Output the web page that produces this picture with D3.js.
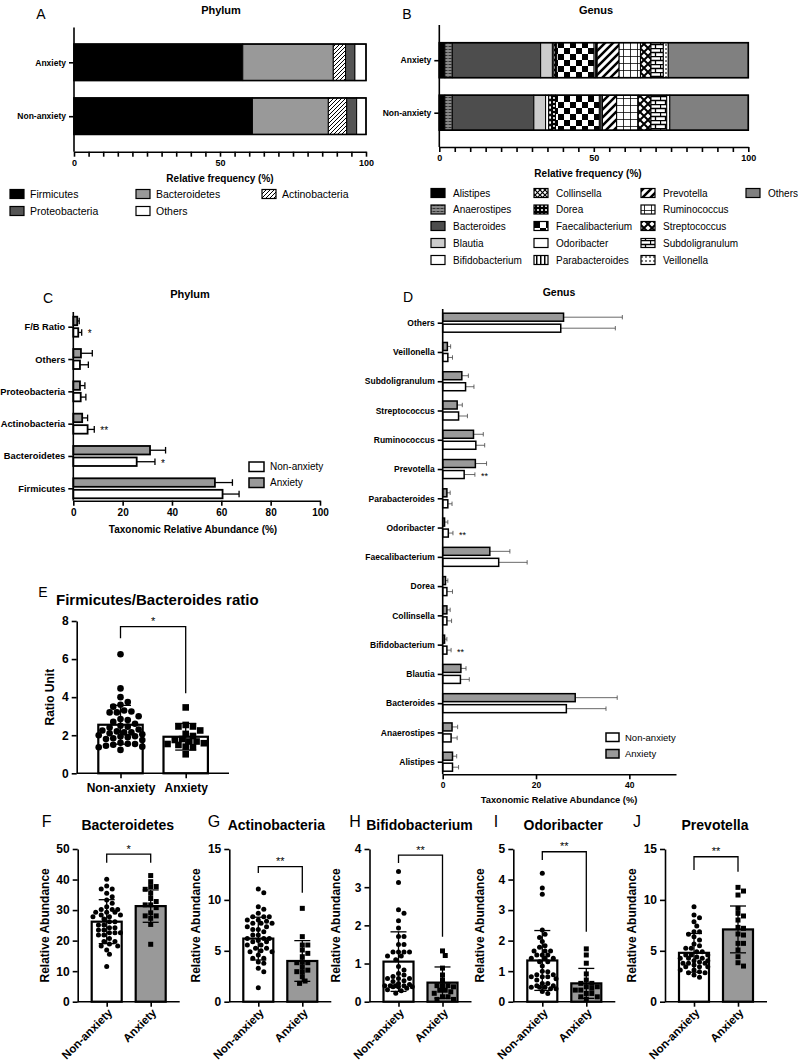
<!DOCTYPE html>
<html>
<head>
<meta charset="utf-8">
<script src="https://cdn.jsdelivr.net/npm/d3@7"></script>
<style>
body { margin: 0; background: #fff; }
</style>
</head>
<body>
<script>
// ---- data ----
var groups = ["Anxiety", "Non-anxiety"]
var dotGroups = ["Non-anxiety", "Anxiety"]

var phyla = ["Firmicutes", "Bacteroidetes", "Actinobacteria", "Proteobacteria", "Others"]
var phylumAnx = [57.8, 31.0, 4.2, 3.2, 3.8]
var phylumNon = [61.1, 26.0, 6.3, 3.4, 3.2]
var phylumLegend = ["Firmicutes", "Proteobacteria", "Bacteroidetes", "Others", "Actinobacteria"]

var genera = ["Alistipes", "Anaerostipes", "Bacteroides", "Blautia", "Bifidobacterium", "Collinsella", "Dorea",
  "Faecalibacterium", "Odoribacter", "Parabacteroides", "Prevotella", "Ruminococcus", "Streptococcus",
  "Subdoligranulum", "Veillonella", "Others"]
var genusAnx = [1.8, 2.4, 28.6, 3.8, 0.5, 0.5, 0.4, 12.1, 0.5, 0.5, 7.1, 6.9, 3.4, 4.0, 1.6, 25.9]
var genusNon = [1.8, 2.4, 26.4, 3.8, 1.0, 1.0, 1.2, 14.2, 0.5, 0.5, 4.6, 7.0, 4.1, 5.1, 1.0, 25.4]

var cCats = ["F/B Ratio", "Others", "Proteobacteria", "Actinobacteria", "Bacteroidetes", "Firmicutes"]
var cAnx = [1.6, 3.1, 2.7, 3.6, 31.1, 57.4]
var cAnxSd = [0.8, 4.6, 2.0, 2.2, 6.3, 7.1]
var cNon = [2.0, 2.7, 3.0, 5.8, 25.7, 60.5]
var cNonSd = [1.4, 3.4, 2.1, 2.7, 7.4, 6.7]
var cStars = ["*", "", "", "**", "*", ""]

var dCats = ["Others", "Veillonella", "Subdoligranulum", "Streptococcus", "Ruminococcus", "Prevotella",
  "Parabacteroides", "Odoribacter", "Faecalibacterium", "Dorea", "Collinsella", "Bifidobacterium ",
  "Blautia", "Bacteroides", "Anaerostipes", "Alistipes"]
var dAnx = [25.9, 1.0, 4.1, 3.1, 6.6, 7.0, 0.9, 0.4, 10.1, 0.6, 0.9, 0.4, 3.9, 28.4, 2.0, 2.1]
var dAnxSd = [12.6, 0.7, 1.4, 1.1, 2.1, 2.4, 0.7, 0.7, 4.3, 0.5, 0.7, 0.5, 1.1, 9.0, 1.2, 0.9]
var dNon = [25.3, 1.1, 4.9, 3.4, 7.1, 4.6, 1.1, 1.2, 12.0, 0.9, 0.9, 0.9, 3.8, 26.5, 1.8, 2.1]
var dNonSd = [11.7, 1.0, 1.8, 1.9, 1.9, 2.3, 0.9, 1.0, 6.1, 1.2, 1.0, 0.9, 1.9, 8.5, 1.3, 1.3]
var dStars = ["", "", "", "", "", "**", "", "**", "", "", "", "**", "", "", "", ""]

// F/B ratio (E)
var eNon = [6.25, 4.46, 4.0, 3.74, 3.6, 3.5, 3.3, 3.25, 3.2, 3.2, 3.0, 2.85, 2.8, 2.7, 2.6, 2.5, 2.45, 2.4, 2.3, 2.25,
  2.2, 2.15, 2.15, 2.1, 2.05, 2.0, 1.95, 1.93, 1.9, 1.84, 1.8, 1.75, 1.6, 1.55, 1.54, 1.5, 1.45, 1.4, 1.37, 1.23]
var eAnx = [3.46, 2.54, 2.46, 2.46, 2.25, 2.07, 1.96, 1.8, 1.75, 1.67, 1.67, 1.58, 1.54, 1.49, 1.4, 1.37, 1.0]
// Bacteroidetes (F)
var fNon = [40.1, 37.9, 36.9, 36.9, 35.5, 34.4, 33.3, 32.2, 31.1, 30.2, 30.2, 30.2, 29.3, 29.3, 29.3, 28.4, 28.4, 27.8,
  27.8, 27.1, 26.2, 26.2, 25.1, 25.1, 24.2, 24.2, 23.5, 23.5, 22.6, 22.6, 22.6, 21.8, 21.8, 20.7, 19.7, 19.7, 18.9,
  18.2, 18.2, 16.9, 15.5, 11.5]
var fAnx = [41.3, 39.3, 37.7, 37.7, 36.8, 35.5, 33.8, 32.8, 31.7, 31.7, 30.8, 29.1, 28.1, 28.1, 27.3, 25.3, 18.8]
// Actinobacteria (G)
var gNon = [11.07, 10.7, 9.33, 9.07, 8.68, 8.35, 8.35, 8.35, 8.02, 8.02, 7.9, 7.7, 7.7, 7.7, 7.37, 7.37, 7.1, 7.1, 6.88,
  6.55, 6.55, 6.22, 6.22, 6.22, 6.0, 5.9, 5.9, 5.57, 5.57, 5.24, 5.24, 5.0, 4.91, 4.91, 4.59, 4.26, 4.26, 3.9, 3.77,
  3.28, 2.95, 1.38]
var gAnx = [9.17, 6.39, 5.57, 5.57, 5.08, 4.75, 4.42, 3.93, 3.83, 3.83, 3.44, 3.1, 2.95, 2.95, 2.46, 2.03, 1.8]
// Bifidobacterium (H)
var hNon = [3.41, 3.12, 2.41, 2.32, 2.12, 1.93, 1.71, 1.71, 1.5, 1.5, 1.3, 1.3, 1.3, 1.3, 1.2, 1.2, 1.1, 0.92, 0.83,
  0.74, 0.7, 0.66, 0.61, 0.61, 0.61, 0.55, 0.53, 0.48, 0.45, 0.42, 0.42, 0.42, 0.42, 0.39, 0.39, 0.39, 0.35, 0.31,
  0.29, 0.22]
var hAnx = [1.33, 1.21, 0.88, 0.7, 0.57, 0.42, 0.42, 0.42, 0.39, 0.3, 0.3, 0.26, 0.22, 0.13, 0.13, 0.06, 0.06]
// Odoribacter (I)
var iNon = [4.21, 3.72, 3.52, 2.35, 2.21, 2.1, 1.97, 1.83, 1.78, 1.66, 1.66, 1.66, 1.53, 1.53, 1.53, 1.42, 1.42, 1.42,
  1.31, 1.31, 1.17, 1.0, 0.98, 0.88, 0.88, 0.82, 0.82, 0.82, 0.75, 0.71, 0.6, 0.6, 0.52, 0.52, 0.47, 0.47, 0.47,
  0.42, 0.42, 0.33, 0.27]
var iAnx = [1.73, 1.53, 1.26, 0.91, 0.71, 0.6, 0.6, 0.49, 0.49, 0.44, 0.38, 0.38, 0.27, 0.27, 0.16, 0.16, 0.08]
// Prevotella (J)
var jNon = [9.33, 8.52, 8.25, 7.86, 7.44, 6.88, 6.88, 6.62, 6.39, 6.06, 5.67, 5.5, 5.24, 5.24, 4.91, 4.91, 4.59, 4.59,
  4.59, 4.4, 4.26, 4.26, 4.26, 4.03, 4.03, 3.9, 3.77, 3.77, 3.77, 3.6, 3.44, 3.44, 3.44, 3.11, 3.11, 2.95, 2.85,
  2.85, 2.62, 2.39]
var jAnx = [11.23, 10.87, 10.48, 9.17, 8.68, 8.42, 8.02, 7.3, 7.21, 6.65, 6.55, 5.73, 5.73, 5.08, 4.42, 3.83, 3.5]

var dotMeans = { e: [2.55, 1.92], f: [26.2, 31.3], g: [6.2, 4.0], h: [1.05, 0.5], i: [1.35, 0.6], j: [4.8, 7.1] }
var dotSds = { e: [1.02, 0.7], f: [7.2, 5.3], g: [2.1, 2.0], h: [0.78, 0.41], i: [0.98, 0.49], j: [1.9, 2.3] }
// significance bracket: [top, left leg end, right leg end] in data units
var brackets = { e: [7.7, 7.1, 4.2], f: [48.3, 45.5, 45.5], g: [13.26, 12.64, 10.7], h: [3.84, 3.63, 1.7],
  i: [4.91, 4.64, 2.29], j: [14.24, 12.94, 12.77] }
var sigStars = { e: "*", f: "*", g: "**", h: "**", i: "**", j: "**" }

// ---- drawing ----
var FONT = "'Liberation Sans', Arial, Helvetica, sans-serif"
var GRAY = "#999"

var svg = d3.select("body").append("svg")
  .attr("width", 798)
  .attr("height", 1064)
  .attr("font-family", FONT)
svg.append("rect").attr("width", 798).attr("height", 1064).attr("fill", "#fff")
var defs = svg.append("defs")

function pat(id, w, h, bg, draw) {
  var p = defs.append("pattern").attr("id", id)
    .attr("patternUnits", "userSpaceOnUse")
    .attr("width", w).attr("height", h)
  p.append("rect").attr("width", w).attr("height", h).attr("fill", bg)
  draw(p)
}
pat("actino", 4, 4, "#fff", p => p.append("path").attr("d", "M-1,1l2,-2M0,4l4,-4M3,5l2,-2").attr("stroke", "#000").attr("stroke-width", 1))
pat("anaero", 4, 3, "#888", p => p.append("rect").attr("x", 0.5).attr("y", 1).attr("width", 3).attr("height", 1).attr("fill", "#333"))
pat("collin", 5, 5, "#fff", p => p.append("path").attr("d", "M0,0L5,5M5,0L0,5").attr("stroke", "#000").attr("stroke-width", 1.2))
pat("dorea", 4, 4, "#000", p => p.append("circle").attr("cx", 2).attr("cy", 2).attr("r", 1.1).attr("fill", "#fff"))
pat("faecal", 12, 12, "#fff", p => {
  p.append("rect").attr("width", 6).attr("height", 6).attr("fill", "#000")
  p.append("rect").attr("x", 6).attr("y", 6).attr("width", 6).attr("height", 6).attr("fill", "#000")
})
pat("parab", 4, 4, "#fff", p => p.append("rect").attr("width", 1.5).attr("height", 4).attr("fill", "#000"))
pat("prev", 8, 8, "#fff", p => p.append("path").attr("d", "M-2,2l4,-4M0,8l8,-8M6,10l4,-4").attr("stroke", "#000").attr("stroke-width", 2.5))
pat("rumino", 7, 7, "#fff", p => p.append("path").attr("d", "M0,0H7M0,0V7").attr("stroke", "#000").attr("stroke-width", 1.6))
pat("strep", 8, 8, "#fff", p => p.append("path").attr("d", "M0,0L8,8M8,0L0,8").attr("stroke", "#000").attr("stroke-width", 2))
pat("subdo", 10, 8, "#fff", p => p.append("path").attr("d", "M0,0.5H10M0,4.5H10M0.5,0V4.5M5.5,4.5V8").attr("stroke", "#000").attr("stroke-width", 1.3))
pat("veill", 4, 4, "#fff", p => p.append("rect").attr("x", 1.5).attr("width", 1).attr("height", 2).attr("fill", "#000"))

var phylumFill = { Firmicutes: "#000", Bacteroidetes: "#999", Actinobacteria: "url(#actino)", Proteobacteria: "#555", Others: "#fff" }
var genusFill = ["#000", "url(#anaero)", "#4d4d4d", "#ccc", "#fff", "url(#collin)", "url(#dorea)", "url(#faecal)",
  "#fff", "url(#parab)", "url(#prev)", "url(#rumino)", "url(#strep)", "url(#subdo)", "url(#veill)", "#808080"]

function styleAxis(sel, size) {
  sel.attr("font-family", FONT).attr("font-size", size).attr("font-weight", "bold")
  sel.selectAll("path.domain").attr("stroke-width", 1.6)
  sel.selectAll(".tick line").attr("stroke-width", 1.6)
  sel.selectAll(".tick text").attr("fill", "#000")
}

function label(x, y, txt, size, weight, anchor) {
  return svg.append("text")
    .attr("x", x).attr("y", y)
    .attr("font-size", size)
    .attr("font-weight", weight || "normal")
    .attr("text-anchor", anchor || "start")
    .attr("fill", "#000")
    .text(txt)
}

function vline(g, x, y1, y2, w) {
  g.append("line").attr("x1", x).attr("x2", x).attr("y1", y1).attr("y2", y2).attr("stroke", "#000").attr("stroke-width", w)
}

// stacked composition bars (A, B)
function stackedPanel(cfg) {
  var g = svg.append("g")
  var x = d3.scaleLinear().domain([0, 100]).range([cfg.x0, cfg.x1])
  var y = d3.scalePoint().domain(groups).range(cfg.yr)
  var rows = [cfg.anx, cfg.non]
  groups.forEach(function (grp, gi) {
    var cum = d3.cumsum(rows[gi])
    g.selectAll(null).data(rows[gi]).enter().append("rect")
      .attr("x", (d, i) => x(cum[i] - d))
      .attr("y", y(grp) - cfg.bh / 2)
      .attr("width", (d, i) => x(cum[i]) - x(cum[i] - d))
      .attr("height", cfg.bh)
      .attr("fill", (d, i) => cfg.fills[i])
      .attr("stroke", "#000")
      .attr("stroke-width", 1)
    g.append("rect")
      .attr("x", x(0)).attr("y", y(grp) - cfg.bh / 2)
      .attr("width", x(cum[cum.length - 1]) - x(0)).attr("height", cfg.bh)
      .attr("fill", "none").attr("stroke", "#000").attr("stroke-width", 1.6)
  })
  var xAxis = g.append("g").attr("transform", `translate(0,${cfg.axisY})`)
    .call(d3.axisBottom(x).tickValues(d3.range(0, 101, 5)).tickSize(5).tickSizeOuter(0)
      .tickFormat(d => d % 50 === 0 ? d : ""))
  styleAxis(xAxis, 9)
  var yAxis = g.append("g").attr("transform", `translate(${cfg.x0},0)`)
    .call(d3.axisLeft(y).tickSize(5).tickSizeOuter(0))
  styleAxis(yAxis, 8.5)
  yAxis.select(".domain").remove()
  vline(g, cfg.x0, cfg.yTop, cfg.axisY, 1.6)
}

// grouped horizontal bars with SD (C, D)
function hbarPanel(cfg) {
  var g = svg.append("g")
  var x = d3.scaleLinear().domain([0, cfg.max]).range([cfg.x0, cfg.x1])
  var y = d3.scalePoint().domain(cfg.cats).range(cfg.yr)
  var series = [
    { vals: cfg.anx, sd: cfg.anxSd, fill: GRAY, top: c => c - cfg.bh - 1.5 },
    { vals: cfg.non, sd: cfg.nonSd, fill: "#fff", top: c => c + 1.5 }
  ]
  series.forEach(function (s) {
    cfg.cats.forEach(function (cat, i) {
      var c = y(cat)
      var yc = s.top(c) + cfg.bh / 2
      var xe = x(s.vals[i] + s.sd[i])
      g.append("line").attr("x1", x(s.vals[i])).attr("x2", xe).attr("y1", yc).attr("y2", yc)
        .attr("stroke", cfg.errColor).attr("stroke-width", cfg.errW)
      g.append("line").attr("x1", xe).attr("x2", xe).attr("y1", yc - cfg.cap).attr("y2", yc + cfg.cap)
        .attr("stroke", cfg.errColor).attr("stroke-width", cfg.errW)
      g.append("rect")
        .attr("x", x(0)).attr("y", s.top(c))
        .attr("width", x(s.vals[i]) - x(0)).attr("height", cfg.bh)
        .attr("fill", s.fill).attr("stroke", "#000").attr("stroke-width", cfg.barW)
    })
  })
  cfg.cats.forEach(function (cat, i) {
    if (!cfg.stars[i]) return
    var c = y(cat) + 1.5 + cfg.bh / 2
    g.append("text").attr("x", x(cfg.non[i] + cfg.nonSd[i]) + cfg.starGap).attr("y", c + cfg.starSize * 0.5)
      .attr("font-size", cfg.starSize).attr("fill", "#000").text(cfg.stars[i])
  })
  var xAxis = g.append("g").attr("transform", `translate(0,${cfg.axisY})`)
    .call(d3.axisBottom(x).tickValues(cfg.ticks).tickSize(5).tickSizeOuter(0))
  styleAxis(xAxis, cfg.tickSize)
  var yAxis = g.append("g").attr("transform", `translate(${cfg.x0},0)`)
    .call(d3.axisLeft(y).tickSize(5).tickSizeOuter(0))
  styleAxis(yAxis, cfg.catSize)
  yAxis.select(".domain").remove()
  vline(g, cfg.x0, cfg.yTop, cfg.axisY, 1.6)
  // legend
  var leg = [["Non-anxiety", "#fff"], ["Anxiety", GRAY]]
  leg.forEach(function (l, i) {
    g.append("rect").attr("x", cfg.legX).attr("y", cfg.legY + i * cfg.legStep)
      .attr("width", cfg.legW).attr("height", cfg.legH)
      .attr("fill", l[1]).attr("stroke", "#000").attr("stroke-width", 1.5)
    g.append("text").attr("x", cfg.legX + cfg.legW + 6).attr("y", cfg.legY + i * cfg.legStep + cfg.legH / 2)
      .attr("dy", "0.35em").attr("font-size", cfg.legSize).text(l[0])
  })
}

// simple deterministic beeswarm
function swarm(vals, y, cx, r, half) {
  var pts = vals.map(v => ({ v: v, y: y(v) })).sort((a, b) => a.y - b.y)
  var placed = []
  var step = r * 1.1
  pts.forEach(function (p) {
    var best = 0, bestScore = -1
    for (var k = 0; k < 80; k++) {
      var off = (k % 2 ? 1 : -1) * Math.ceil(k / 2) * step
      if (Math.abs(off) > half) break
      var md = d3.min(placed, q => Math.hypot(q.x - (cx + off), q.y - p.y))
      if (md === undefined || md >= 2 * r * 0.95) { best = off; bestScore = Infinity; break }
      if (md > bestScore) { bestScore = md; best = off }
    }
    p.x = cx + best
    placed.push(p)
  })
  return placed
}

// bar + scatter panels (E - J)
function dotPanel(cfg) {
  var g = svg.append("g")
  var y = d3.scaleLinear().domain([0, cfg.max]).range([cfg.y0, cfg.y1])
  var x = d3.scalePoint().domain(dotGroups).range([cfg.ax + cfg.c1, cfg.ax + cfg.c2])
  var vals = [cfg.non, cfg.anx]
  dotGroups.forEach(function (grp, gi) {
    var cx = x(grp)
    var m = cfg.means[gi], sd = cfg.sds[gi]
    g.append("rect")
      .attr("x", cx - cfg.bw / 2).attr("y", y(m))
      .attr("width", cfg.bw).attr("height", y(0) - y(m))
      .attr("fill", cfg.fills[gi]).attr("stroke", "#000").attr("stroke-width", 2.2)
    var pts = swarm(vals[gi], y, cx, cfg.r, cfg.bw / 2)
    if (gi === 0) {
      g.selectAll(null).data(pts).enter().append("circle")
        .attr("cx", d => d.x).attr("cy", d => d.y).attr("r", cfg.r).attr("fill", "#000")
    } else {
      g.selectAll(null).data(pts).enter().append("rect")
        .attr("x", d => d.x - cfg.r).attr("y", d => d.y - cfg.r)
        .attr("width", cfg.r * 2).attr("height", cfg.r * 2).attr("fill", "#000")
    }
    vline(g, cx, y(Math.max(0, m - sd)), y(m + sd), 1.3)
    g.append("line").attr("x1", cx - cfg.cap).attr("x2", cx + cfg.cap).attr("y1", y(m + sd)).attr("y2", y(m + sd))
      .attr("stroke", "#000").attr("stroke-width", 1.3)
    if (m - sd > 0) {
      g.append("line").attr("x1", cx - cfg.cap).attr("x2", cx + cfg.cap).attr("y1", y(m - sd)).attr("y2", y(m - sd))
        .attr("stroke", "#000").attr("stroke-width", 1.3)
    }
  })
  // bracket
  var b = cfg.bracket
  var xl = x(dotGroups[0]), xr = x(dotGroups[1])
  g.append("path")
    .attr("d", `M${xl},${y(b[1])}V${y(b[0])}H${xr}V${y(b[2])}`)
    .attr("fill", "none").attr("stroke", "#000").attr("stroke-width", 1.3)
  g.append("text").attr("x", (xl + xr) / 2).attr("y", y(b[0]) - 1.5)
    .attr("text-anchor", "middle").attr("font-size", 11).attr("fill", "#000").text(cfg.star)
  // axes
  var yAxis = g.append("g").attr("transform", `translate(${cfg.ax},0)`)
    .call(d3.axisLeft(y).tickValues(cfg.ticks).tickSize(5).tickSizeOuter(0).tickFormat(d3.format("d")))
  styleAxis(yAxis, 12)
  var xAxis = g.append("g").attr("transform", `translate(0,${cfg.y0})`)
    .call(d3.axisBottom(x).tickSize(5).tickSizeOuter(0))
  styleAxis(xAxis, cfg.rotate ? 11.5 : 12)
  xAxis.select(".domain").remove()
  g.append("line").attr("x1", cfg.ax).attr("x2", cfg.ax + cfg.xlen).attr("y1", cfg.y0).attr("y2", cfg.y0)
    .attr("stroke", "#000").attr("stroke-width", 1.6)
  if (cfg.rotate) {
    xAxis.selectAll(".tick text")
      .attr("x", 0).attr("y", 0).attr("dy", "0.35em")
      .attr("text-anchor", "end")
      .attr("transform", "translate(3,9) rotate(-45)")
  } else {
    xAxis.selectAll(".tick text").attr("y", 10)
  }
  // y title
  g.append("text")
    .attr("transform", `translate(${cfg.ax - cfg.ytOff},${(cfg.y0 + cfg.y1) / 2}) rotate(-90)`)
    .attr("text-anchor", "middle").attr("dy", "0.35em")
    .attr("font-size", 12).attr("font-weight", "bold").text(cfg.ytitle)
}

// ---- panel A ----
label(41, 19, "A", 14, "normal", "middle")
label(221, 14, "Phylum", 11, "bold", "middle")
stackedPanel({
  x0: 74, x1: 366, yr: [62.3, 116.2], bh: 36.5, yTop: 27.5, axisY: 151.7,
  anx: phylumAnx, non: phylumNon, fills: phyla.map(p => phylumFill[p])
})
label(220, 182, "Relative frequency (%)", 10, "bold", "middle")
phylumLegend.forEach(function (p, i) {
  var col = Math.floor(i / 2), row = i % 2
  var sx = [10, 136, 262][col], sy = 194 + row * 17
  svg.append("rect").attr("x", sx).attr("y", sy - 4.5).attr("width", 14).attr("height", 9)
    .attr("fill", phylumFill[p]).attr("stroke", "#000").attr("stroke-width", 1.2)
  label(sx + 20, sy, p, 10.5).attr("dy", "0.35em")
})

// ---- panel B ----
label(407, 19, "B", 14, "normal", "middle")
label(596, 14, "Genus", 11, "bold", "middle")
stackedPanel({
  x0: 439.3, x1: 748.3, yr: [60.2, 112.7], bh: 35, yTop: 25, axisY: 147,
  anx: genusAnx, non: genusNon, fills: genusFill
})
label(588, 177, "Relative frequency (%)", 10, "bold", "middle")
genera.forEach(function (gname, i) {
  var col = Math.floor(i / 5), row = i % 5
  var sx = [431, 534, 641, 746][col], sy = [193, 209.5, 226, 243, 260][row]
  svg.append("rect").attr("x", sx).attr("y", sy - 4.5).attr("width", 14).attr("height", 9)
    .attr("fill", genusFill[i]).attr("stroke", "#000").attr("stroke-width", 1.2)
  label(sx + 22, sy, gname, 10).attr("dy", "0.35em")
})

// ---- panel C ----
label(48, 303, "C", 14, "normal", "middle")
label(190, 298, "Phylum", 11, "bold", "middle")
hbarPanel({
  x0: 73.3, x1: 320, max: 100, ticks: d3.range(0, 101, 20), yr: [326.7, 488.3], yTop: 312, axisY: 500.7,
  cats: cCats, anx: cAnx, anxSd: cAnxSd, non: cNon, nonSd: cNonSd, stars: cStars,
  bh: 8.5, barW: 1.8, errW: 1.3, errColor: "#000", cap: 3.3, starGap: 6, starSize: 10,
  tickSize: 10, catSize: 9.3,
  legX: 249, legY: 462, legStep: 16, legW: 15, legH: 9.5, legSize: 10
})
label(193, 533, "Taxonomic Relative Abundance (%)", 10, "bold", "middle")

// ---- panel D ----
label(408, 302, "D", 14, "normal", "middle")
label(559, 296, "Genus", 10.5, "bold", "middle")
hbarPanel({
  x0: 442.7, x1: 676, max: 50, ticks: [0, 20, 40], yr: [322.7, 761.7], yTop: 309, axisY: 774.3,
  cats: dCats, anx: dAnx, anxSd: dAnxSd, non: dNon, nonSd: dNonSd, stars: dStars,
  bh: 8, barW: 1.5, errW: 0.8, errColor: "#444", cap: 2.2, starGap: 6, starSize: 9,
  tickSize: 8.5, catSize: 8.5,
  legX: 606, legY: 733, legStep: 16.5, legW: 13, legH: 8.5, legSize: 9.5
})
label(559, 803, "Taxonomic Relative Abundance (%)", 9.3, "bold", "middle")

// ---- panel E ----
label(43, 597, "E", 14, "normal", "middle")
label(56, 605, "Firmicutes/Bacteroides ratio", 15, "bold")
dotPanel({
  ax: 76.7, y0: 773.3, y1: 621, max: 8, ticks: [0, 2, 4, 6, 8], c1: 43.8, c2: 109, bw: 44.4, xlen: 152.3,
  non: eNon, anx: eAnx, means: dotMeans.e, sds: dotSds.e, fills: ["#fff", "#fff"], r: 3.3, cap: 10.5,
  bracket: brackets.e, star: sigStars.e, rotate: false, ytitle: "Ratio Unit", ytOff: 26.7
})

// ---- panels F - J ----
var smallPanels = [
  { key: "f", letter: "F", title: "Bacteroidetes", ax: 77.7, max: 50, ticks: d3.range(0, 51, 10), non: fNon, anx: fAnx },
  { key: "g", letter: "G", title: "Actinobacteria", ax: 229.3, max: 15, ticks: [0, 5, 10, 15], non: gNon, anx: gAnx },
  { key: "h", letter: "H", title: "Bifidobacterium", ax: 369.5, max: 4, ticks: [0, 1, 2, 3, 4], non: hNon, anx: hAnx },
  { key: "i", letter: "I", title: "Odoribacter", ax: 513.3, max: 5, ticks: [0, 1, 2, 3, 4, 5], non: iNon, anx: iAnx },
  { key: "j", letter: "J", title: "Prevotella", ax: 665, max: 15, ticks: [0, 5, 10, 15], non: jNon, anx: jAnx }
]
var letterX = [46.7, 214, 355, 496, 637]
smallPanels.forEach(function (p, i) {
  label(letterX[i], 827, p.letter, 16, "normal", "middle")
  label(p.ax + 50 + (p.key === "g" ? -3 : 0), 830, p.title, 14, "bold", "middle")
  dotPanel({
    ax: p.ax, y0: 1001.7, y1: 849, max: p.max, ticks: p.ticks, c1: 29, c2: 73, bw: 30, xlen: 102,
    non: p.non, anx: p.anx, means: dotMeans[p.key], sds: dotSds[p.key], fills: ["#fff", GRAY], r: 2.5, cap: 8,
    bracket: brackets[p.key], star: sigStars[p.key], rotate: true, ytitle: "Relative Abundance", ytOff: 33.4
  })
})
</script>
</body>
</html>
